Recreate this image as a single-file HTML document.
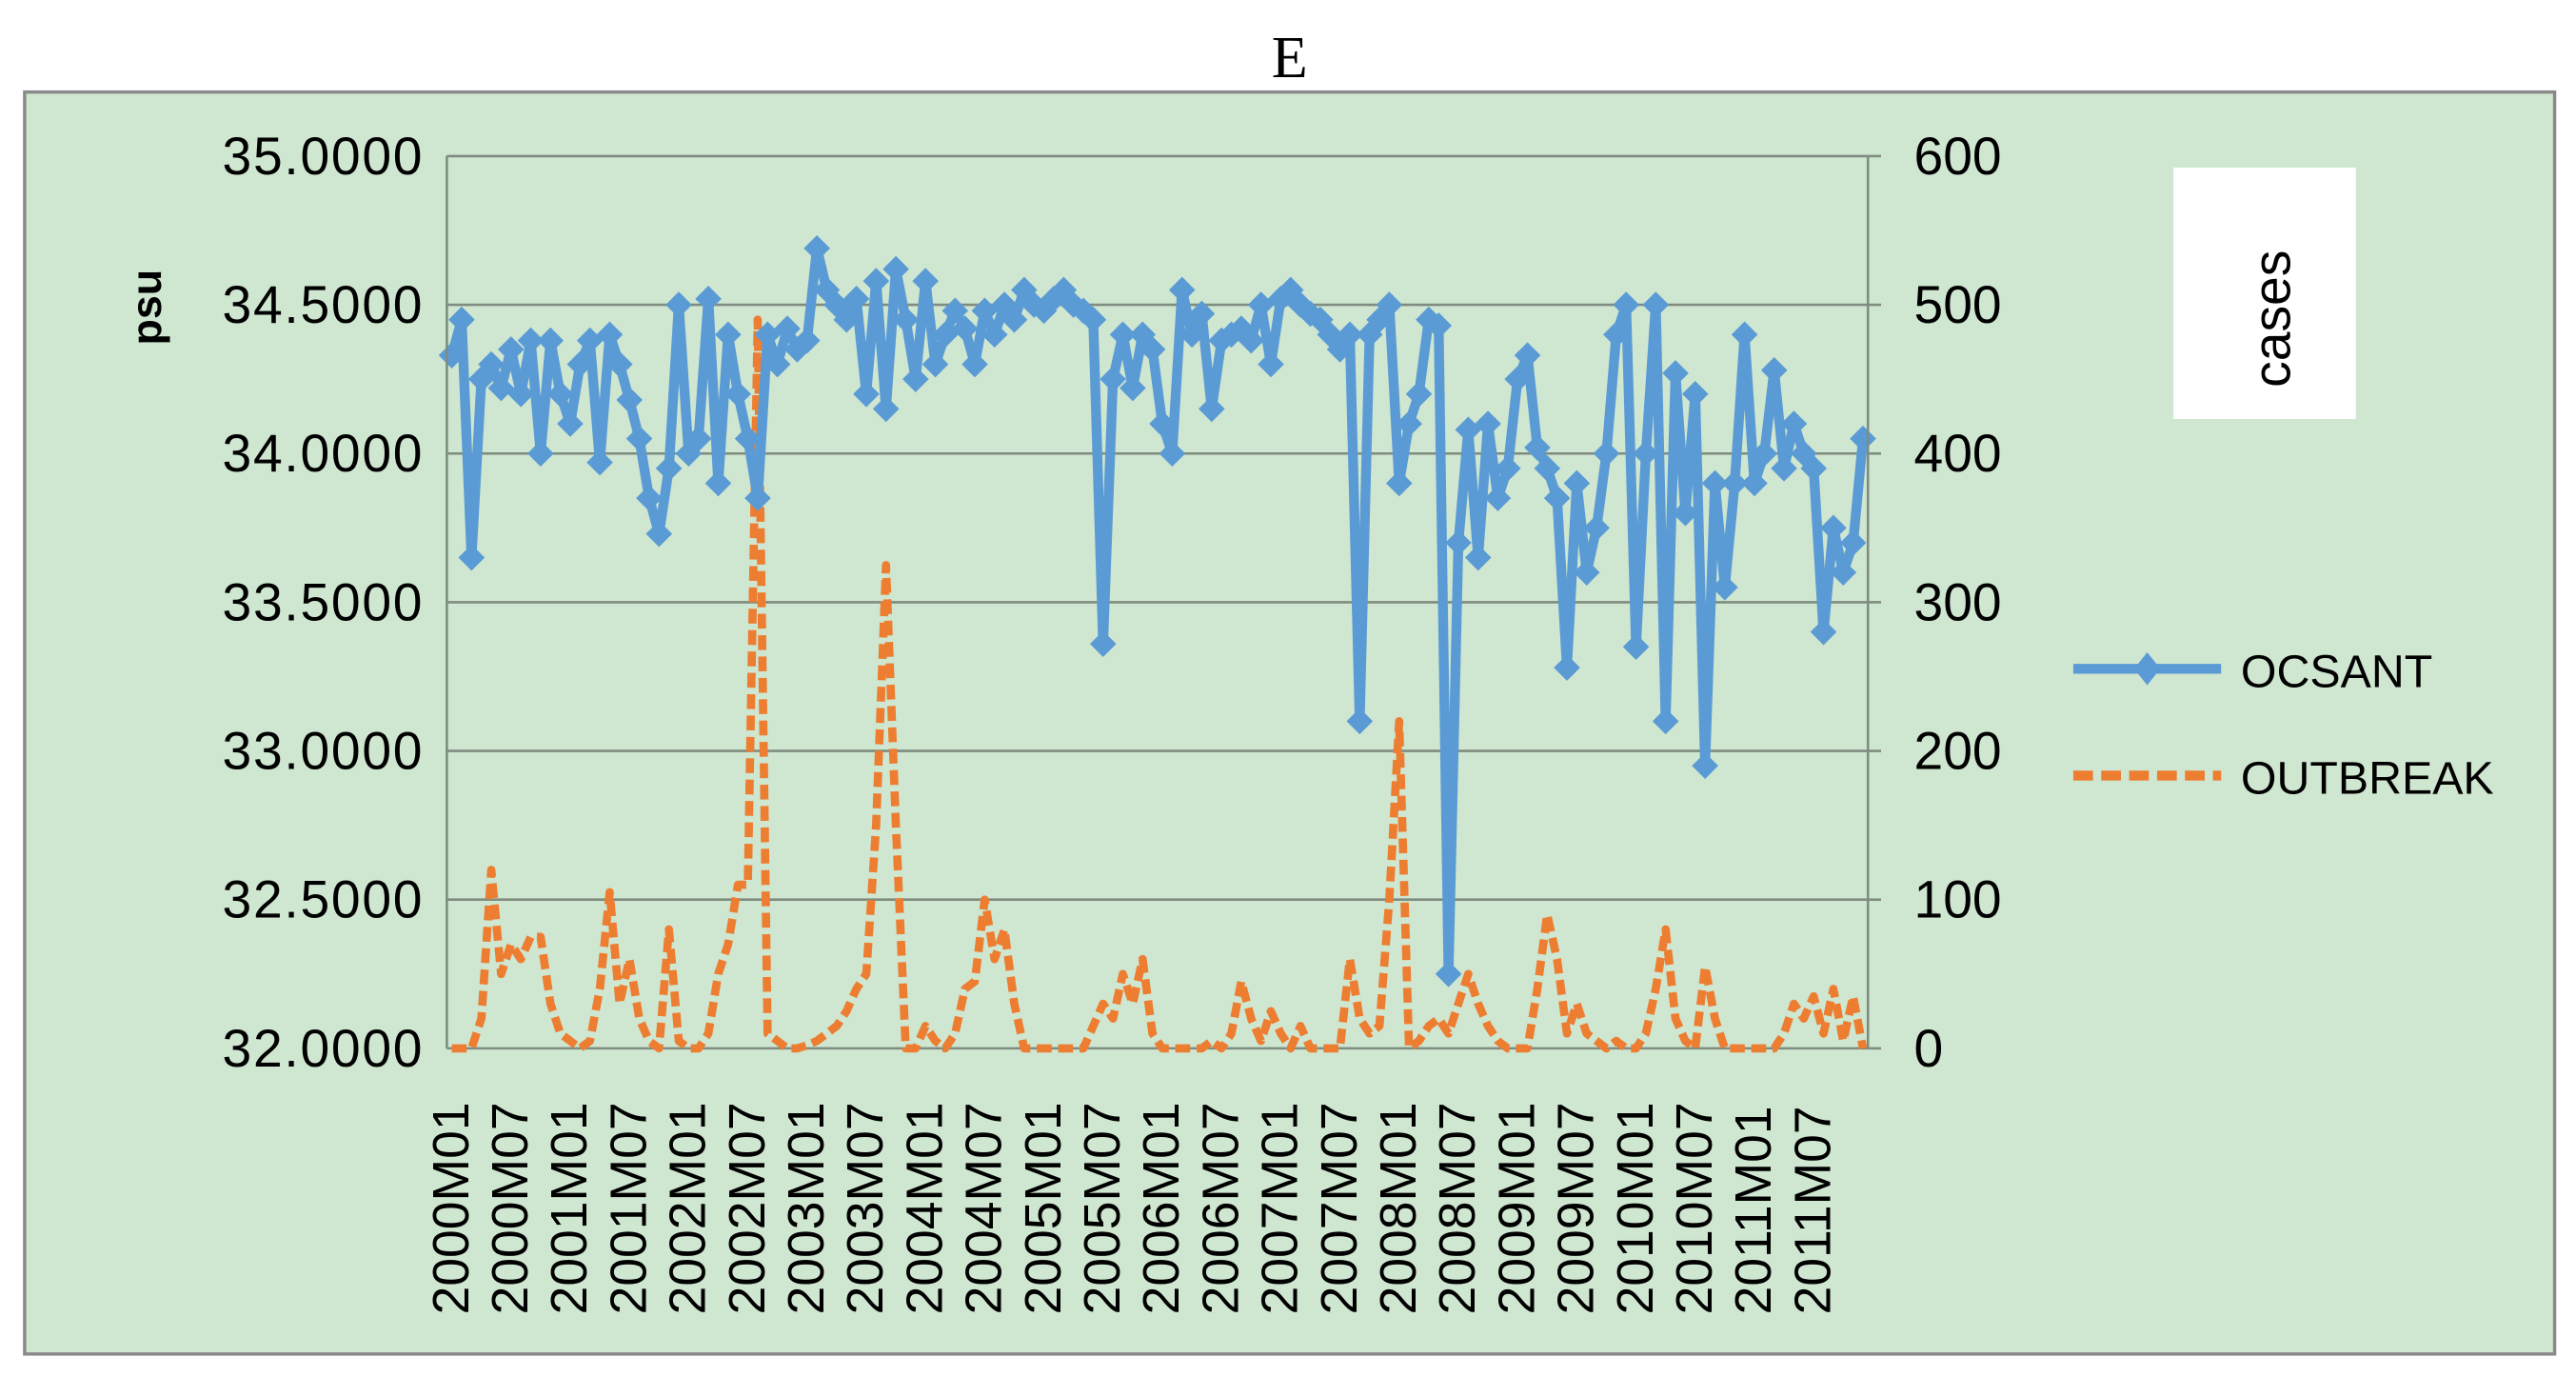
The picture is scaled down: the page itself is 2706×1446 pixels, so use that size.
<!DOCTYPE html>
<html><head><meta charset="utf-8"><style>
html,body{margin:0;padding:0;background:#fff;}
svg{display:block;}
text{font-family:"Liberation Sans","DejaVu Sans",sans-serif;fill:#000;}
</style></head><body>
<svg id="chart" width="2706" height="1446" viewBox="0 0 1568 838" preserveAspectRatio="none" xmlns="http://www.w3.org/2000/svg">
<rect x="0" y="0" width="1568" height="838" fill="#fff"/>
<text x="785" y="47" text-anchor="middle" style="font-family:'Liberation Serif',serif;font-size:36px">E</text>
<rect x="15" y="56" width="1540" height="768" fill="#cfe6d0" stroke="#8a8a8a" stroke-width="2"/>
<g id="grid"></g>
<g id="series"></g>
<g id="axes"></g>
<text transform="translate(98,187) rotate(-90)" text-anchor="middle" style="font-size:26px;font-weight:bold">psu</text>
<rect x="1323" y="102" width="111" height="153" fill="#fff"/>
<text transform="translate(1394,194) rotate(-90)" text-anchor="middle" style="font-size:32px">cases</text>
<g>
<line x1="1262" y1="407" x2="1352" y2="407" stroke="#5b9bd5" stroke-width="6"/>
<path d="M1307,397 L1315,407 L1307,417 L1299,407 Z" fill="#5b9bd5"/>
<text x="1364" y="418" style="font-size:28px">OCSANT</text>
<line x1="1262" y1="472" x2="1352" y2="472" stroke="#ed7d31" stroke-width="6" stroke-dasharray="12,5"/>
<text x="1364" y="483" style="font-size:28px">OUTBREAK</text>
</g>
</svg>
<script>
const ocsant=[34.33,34.45,33.65,34.25,34.3,34.22,34.35,34.2,34.38,34.0,34.38,34.2,
34.1,34.3,34.38,33.97,34.4,34.3,34.18,34.05,33.85,33.73,33.95,34.5,
34.0,34.05,34.52,33.9,34.4,34.2,34.05,33.85,34.4,34.3,34.42,34.35,
34.38,34.69,34.55,34.5,34.45,34.52,34.2,34.58,34.15,34.62,34.45,34.25,
34.58,34.3,34.4,34.48,34.42,34.3,34.48,34.4,34.5,34.45,34.55,34.5,
34.48,34.52,34.55,34.5,34.48,34.45,33.36,34.25,34.4,34.22,34.4,34.35,
34.1,34.0,34.55,34.4,34.47,34.15,34.38,34.4,34.42,34.38,34.5,34.3,
34.52,34.55,34.5,34.47,34.45,34.4,34.35,34.4,33.1,34.4,34.45,34.5,
33.9,34.1,34.2,34.45,34.43,32.25,33.7,34.08,33.65,34.1,33.85,33.95,
34.25,34.33,34.02,33.95,33.85,33.28,33.9,33.6,33.75,34.0,34.4,34.5,
33.35,34.0,34.5,33.1,34.27,33.8,34.2,32.95,33.9,33.55,33.9,34.4,
33.9,34.0,34.28,33.95,34.1,34.0,33.95,33.4,33.75,33.6,33.7,34.05];
const outbreak=[0,0,0,20,120,50,70,60,75,75,30,10,
5,0,5,40,105,30,60,20,5,0,80,5,
0,0,10,50,70,110,110,490,10,5,0,0,
2,5,10,15,25,40,50,150,325,150,0,0,
15,5,0,10,40,45,100,60,80,30,0,0,
0,0,0,0,0,15,30,20,50,30,60,10,
0,0,0,0,0,5,0,10,45,20,5,25,
10,0,15,0,0,0,0,60,20,10,15,100,
220,0,5,15,20,10,30,50,30,15,5,0,
0,0,40,90,60,10,30,10,5,0,5,0,
0,10,40,80,20,5,0,55,20,0,0,0,
0,0,0,10,30,20,35,10,40,5,35,0];
const leftTicks=["32.0000","32.5000","33.0000","33.5000","34.0000","34.5000","35.0000"];
const rightTicks=["0","100","200","300","400","500","600"];
const years=["2000","2001","2002","2003","2004","2005","2006","2007","2008","2009","2010","2011"];
const NS="http://www.w3.org/2000/svg";
const PL=272,PR=1137,PT=95,PB=638;
const n=ocsant.length;
function xPos(i){return PL+(i+0.5)*(PR-PL)/n;}
function yL(v){return PB-(v-32)/3*(PB-PT);}
function yR(v){return PB-v/600*(PB-PT);}
function mk(tag,attrs,parent){const e=document.createElementNS(NS,tag);for(const k in attrs)e.setAttribute(k,attrs[k]);parent.appendChild(e);return e;}
const grid=document.getElementById('grid'),axes=document.getElementById('axes'),ser=document.getElementById('series');
for(let k=0;k<leftTicks.length;k++){
  const v=32+k*0.5,y=yL(v);
  const g=mk('line',{x1:PL,x2:PR,y1:y,y2:y,stroke:'#7f8c7f','stroke-width':1.5},grid);
  
  
  const t=mk('text',{x:258,y:y+11,'text-anchor':'end',style:'font-size:32px;letter-spacing:1px'},axes);
  t.textContent=leftTicks[k];
  
  
  const tr=mk('line',{x1:PR,x2:PR+8,y1:yR(k*100),y2:yR(k*100),stroke:'#7f8c7f','stroke-width':1.5},axes);
  
  
  const t2=mk('text',{x:1165,y:yR(Number(rightTicks[k]))+11,style:'font-size:32px'},axes);
  t2.textContent=rightTicks[k];
  
  
}
const la=mk('line',{x1:PL,x2:PL,y1:PT,y2:PB,stroke:'#7f8c7f','stroke-width':1.5},axes);


const ra=mk('line',{x1:PR,x2:PR,y1:PT,y2:PB,stroke:'#7f8c7f','stroke-width':1.5},axes);


for(let k=0;k<years.length*2;k++){
  const i=k*6,lab=years[Math.floor(k/2)]+(k%2?"M07":"M01");
  const x=xPos(i)+10;
  const t=mk('text',{transform:'translate('+x+',800) rotate(-90)',style:'font-size:31px'},axes);
  t.textContent=lab;
  
  
}
let d1='';outbreak.forEach((v,i)=>{d1+=(i?'L':'M')+xPos(i).toFixed(2)+','+yR(v).toFixed(2);});
const ob=mk('path',{d:d1,fill:'none',stroke:'#ed7d31','stroke-width':5,'stroke-dasharray':'9,4','stroke-linejoin':'round'},ser);


let d2='';ocsant.forEach((v,i)=>{d2+=(i?'L':'M')+xPos(i).toFixed(2)+','+yL(v).toFixed(2);});
const oc=mk('path',{d:d2,fill:'none',stroke:'#5b9bd5','stroke-width':6,'stroke-linejoin':'round'},ser);


ocsant.forEach((v,i)=>{
  const x=xPos(i),y=yL(v);
  const m=mk('path',{d:'M'+x+','+(y-8)+'L'+(x+8)+','+y+'L'+x+','+(y+8)+'L'+(x-8)+','+y+'Z',fill:'#5b9bd5'},ser);
  
  
});
</script>
</body></html>
